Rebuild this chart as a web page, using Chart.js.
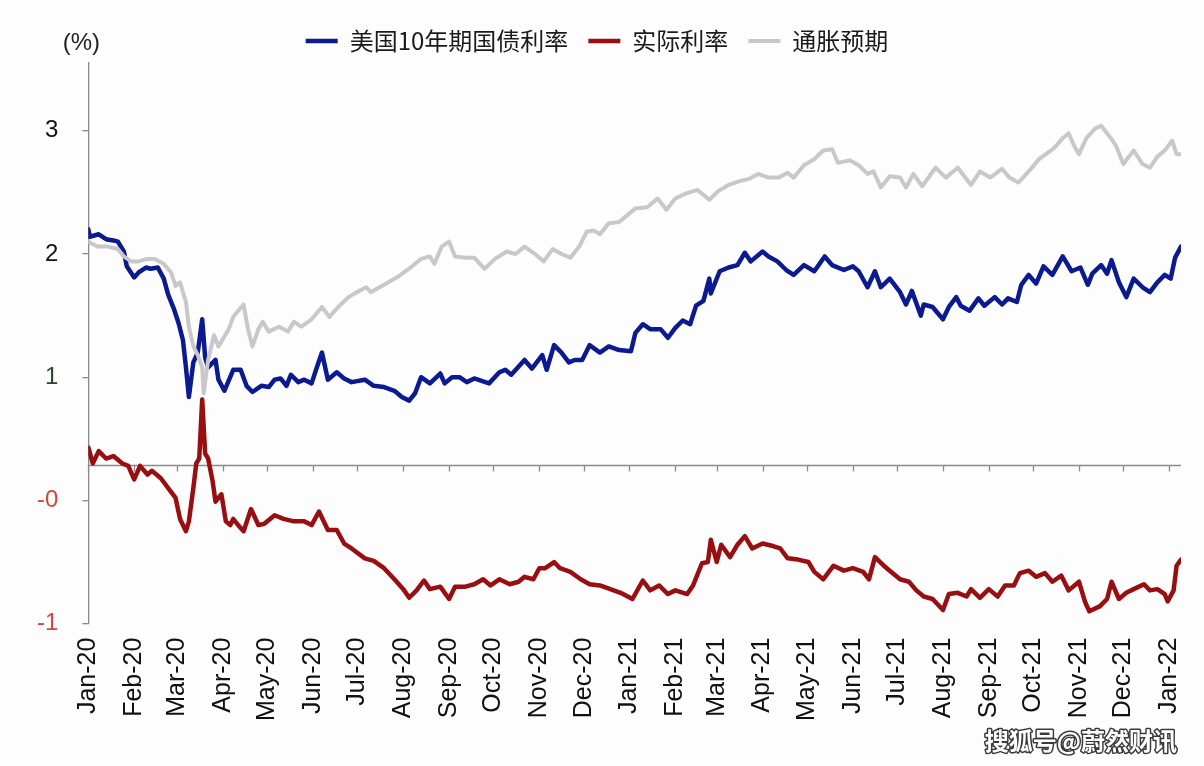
<!DOCTYPE html>
<html>
<head>
<meta charset="utf-8">
<script src="https://cdn.jsdelivr.net/npm/chart.js@4.4.1/dist/chart.umd.min.js"></script>
<style>
  html, body { margin: 0; padding: 0; background: #fdfdfd; }
  #wrap { width: 1204px; height: 766px; position: relative; }
</style>
</head>
<body>
<div id="wrap"><canvas id="c" width="1204" height="766"></canvas></div>
<script>
// ---------------- data ----------------
const seriesNames = ['美国10年期国债利率', '实际利率', '通胀预期'];
const monthLabels = ['Jan-20','Feb-20','Mar-20','Apr-20','May-20','Jun-20','Jul-20','Aug-20','Sep-20','Oct-20','Nov-20','Dec-20',
                     'Jan-21','Feb-21','Mar-21','Apr-21','May-21','Jun-21','Jul-21','Aug-21','Sep-21','Oct-21','Nov-21','Dec-21','Jan-22'];
const yTickValues = [-1, 0, 1, 2, 3];
const yTickLabels = ['-1', '-0', '1', '2', '3'];
const axisCrossValue = 0.29;   // value where the horizontal category axis crosses
const lastDay = 739;           // days after 1 Jan 2020 covered by the axis

// days after 1 Jan 2020 / value  — US 10Y Treasury yield
const tsyDays = [0,1,7,12,17,20,24,26,31,34,39,42,47,51,54,58,61,64,66,68,71,74,77,79,81,86,88,92,98,103,107,111,117,122,126,130,134,137,142,146,151,154,158,162,168,173,178,187,193,200,207,212,217,221,225,231,238,241,246,251,256,261,271,278,282,286,295,300,307,310,315,320,325,329,334,339,346,352,359,367,370,375,380,387,392,397,402,407,411,416,420,421,427,433,439,444,448,456,460,466,472,477,484,491,498,503,511,517,521,527,532,536,542,549,553,557,563,565,571,578,582,587,590,596,602,606,613,618,622,628,631,636,641,646,652,659,665,671,676,679,685,689,692,697,702,707,713,718,723,728,732,735,739];
const tsyValues = [2.20,2.14,2.16,2.12,2.11,2.10,2.02,1.90,1.81,1.85,1.89,1.88,1.89,1.80,1.67,1.55,1.44,1.30,1.08,0.84,1.12,1.20,1.47,1.16,1.08,1.14,0.98,0.89,1.06,1.06,0.93,0.88,0.93,0.92,0.98,0.99,0.93,1.02,0.96,0.98,0.95,1.06,1.20,0.98,1.04,0.99,0.96,0.98,0.93,0.92,0.89,0.84,0.81,0.87,1.00,0.95,1.03,0.95,1.00,1.00,0.96,0.99,0.95,1.04,1.06,1.02,1.14,1.07,1.18,1.06,1.26,1.20,1.12,1.14,1.14,1.26,1.20,1.25,1.22,1.21,1.36,1.43,1.39,1.39,1.32,1.40,1.46,1.43,1.58,1.62,1.80,1.68,1.86,1.89,1.91,2.01,1.94,2.02,1.98,1.94,1.87,1.83,1.91,1.86,1.98,1.91,1.87,1.90,1.86,1.73,1.86,1.73,1.80,1.69,1.59,1.70,1.50,1.59,1.57,1.47,1.57,1.65,1.58,1.54,1.64,1.58,1.65,1.59,1.64,1.61,1.75,1.83,1.76,1.90,1.83,1.98,1.86,1.89,1.75,1.84,1.91,1.84,1.95,1.77,1.65,1.80,1.73,1.69,1.77,1.83,1.80,1.97,2.06];

// real rate
const realDays = [0,3,7,12,17,23,27,31,35,40,43,49,54,59,62,66,68,71,73,75,77,79,81,84,86,90,93,96,98,102,105,110,115,119,126,132,139,146,151,156,162,168,173,178,187,193,200,207,213,217,222,227,231,238,244,248,255,261,267,272,278,285,291,295,301,305,309,315,319,326,333,339,346,353,360,368,375,380,386,392,397,405,409,415,419,421,425,428,434,439,444,449,456,463,468,473,480,487,491,497,504,511,517,524,528,532,538,542,549,555,560,565,571,578,582,588,594,597,603,609,615,620,626,630,636,641,647,652,658,663,670,674,677,684,689,692,697,702,707,714,718,723,728,730,734,736,739];
const realValues = [0.43,0.30,0.40,0.34,0.36,0.30,0.28,0.17,0.28,0.21,0.24,0.18,0.10,0.02,-0.15,-0.25,-0.17,0.10,0.30,0.34,0.82,0.38,0.34,0.16,-0.01,0.05,-0.17,-0.20,-0.15,-0.21,-0.25,-0.07,-0.20,-0.19,-0.12,-0.15,-0.17,-0.17,-0.20,-0.09,-0.24,-0.24,-0.35,-0.39,-0.47,-0.49,-0.55,-0.64,-0.72,-0.79,-0.73,-0.65,-0.72,-0.70,-0.80,-0.70,-0.70,-0.68,-0.64,-0.69,-0.64,-0.68,-0.66,-0.62,-0.64,-0.55,-0.55,-0.50,-0.55,-0.58,-0.64,-0.68,-0.69,-0.72,-0.75,-0.80,-0.65,-0.73,-0.69,-0.76,-0.73,-0.76,-0.69,-0.51,-0.50,-0.32,-0.50,-0.36,-0.46,-0.36,-0.29,-0.39,-0.35,-0.37,-0.39,-0.47,-0.48,-0.50,-0.58,-0.64,-0.53,-0.57,-0.55,-0.58,-0.64,-0.46,-0.53,-0.57,-0.64,-0.66,-0.73,-0.78,-0.80,-0.89,-0.76,-0.75,-0.78,-0.72,-0.79,-0.72,-0.78,-0.69,-0.69,-0.59,-0.57,-0.62,-0.59,-0.66,-0.61,-0.73,-0.66,-0.82,-0.90,-0.86,-0.80,-0.66,-0.80,-0.75,-0.72,-0.68,-0.73,-0.72,-0.76,-0.82,-0.73,-0.53,-0.48];

// inflation expectations (breakeven)
const beDays = [0,6,13,20,24,29,34,40,45,51,56,59,62,66,68,71,74,77,78,81,85,88,92,95,98,105,108,111,115,118,122,129,135,139,144,151,158,163,169,176,183,188,191,200,210,219,225,231,234,239,244,248,255,261,268,275,283,289,295,302,308,314,320,326,332,337,342,346,352,359,370,378,385,391,397,404,412,420,426,433,440,447,453,460,467,473,477,484,491,497,503,507,515,521,527,531,536,542,549,553,558,564,573,580,588,597,603,610,618,623,629,636,643,650,654,659,663,667,670,675,681,685,691,695,700,707,713,718,723,728,733,736,739];
const beValues = [2.10,2.06,2.06,2.04,1.98,1.94,1.94,1.96,1.96,1.92,1.85,1.74,1.77,1.61,1.41,1.25,1.18,1.08,0.87,1.14,1.34,1.25,1.33,1.39,1.49,1.59,1.39,1.25,1.39,1.45,1.37,1.41,1.37,1.45,1.41,1.47,1.57,1.49,1.57,1.65,1.70,1.73,1.69,1.75,1.82,1.90,1.96,1.98,1.92,2.06,2.10,1.98,1.97,1.97,1.88,1.96,2.02,2.00,2.06,2.00,1.94,2.04,2.00,1.97,2.06,2.18,2.19,2.16,2.25,2.26,2.37,2.38,2.45,2.36,2.45,2.49,2.52,2.44,2.51,2.56,2.59,2.61,2.65,2.62,2.62,2.66,2.62,2.72,2.77,2.84,2.85,2.74,2.76,2.72,2.65,2.67,2.54,2.63,2.62,2.54,2.65,2.55,2.70,2.62,2.70,2.56,2.67,2.62,2.69,2.62,2.58,2.67,2.77,2.83,2.87,2.94,2.98,2.87,2.81,2.94,3.02,3.04,2.95,2.88,2.73,2.84,2.73,2.70,2.79,2.84,2.92,2.81,2.81];

// ---------------- helpers ----------------
const toPoints = (days, vals) => days.map((d, i) => ({ x: d, y: vals[i] }));
const dayMs = 86400000;
const monthTickDays = monthLabels.map((_, i) => Math.round((Date.UTC(2020, i, 1) - Date.UTC(2020, 0, 1)) / dayMs));

const colors = { tsy: '#0b1b8f', real: '#990e10', be: '#c8c8c8' };

const decor = {
  id: 'decor',
  beforeDraw(chart) {
    const { ctx, width, height } = chart;
    ctx.save();
    ctx.fillStyle = '#fdfdfd';
    ctx.fillRect(0, 0, width, height);
    ctx.restore();
  },
  beforeDatasetsDraw(chart) {
    const { ctx, chartArea, scales: { x, y } } = chart;
    const yy = Math.round(y.getPixelForValue(axisCrossValue)) + 0.5;
    ctx.save();
    ctx.strokeStyle = '#8a8a8a';
    ctx.lineWidth = 1.3;
    ctx.beginPath();
    ctx.moveTo(chartArea.left, yy);
    ctx.lineTo(chartArea.right, yy);
    x.ticks.forEach(t => {
      const px = Math.round(x.getPixelForValue(t.value)) + 0.5;
      ctx.moveTo(px, yy);
      ctx.lineTo(px, yy + 6);
    });
    ctx.stroke();
    ctx.restore();
  },
  afterDraw(chart) {
    const { ctx, chartArea } = chart;
    ctx.save();
    ctx.fillStyle = '#222';
    ctx.font = '24px "Liberation Sans", Arial, sans-serif';
    ctx.textAlign = 'center';
    ctx.textBaseline = 'middle';
    ctx.fillText('(%)', chartArea.left - 7, 43);
    // watermark
    ctx.font = 'bold 24px "Noto Sans CJK SC", sans-serif';
    ctx.textAlign = 'right';
    ctx.lineJoin = 'round';
    ctx.strokeStyle = '#3a3a3a';
    ctx.lineWidth = 3;
    ctx.strokeText('搜狐号@蔚然财讯', chart.width - 27, chart.height - 25);
    ctx.fillStyle = '#ffffff';
    ctx.fillText('搜狐号@蔚然财讯', chart.width - 27, chart.height - 25);
    ctx.restore();
  }
};

new Chart(document.getElementById('c'), {
  type: 'line',
  data: {
    datasets: [
      { label: seriesNames[0], data: toPoints(tsyDays, tsyValues), borderColor: colors.tsy, backgroundColor: colors.tsy,
        borderWidth: 4.5, pointRadius: 0, tension: 0, order: 2, borderJoinStyle: 'round', borderCapStyle: 'round' },
      { label: seriesNames[1], data: toPoints(realDays, realValues), borderColor: colors.real, backgroundColor: colors.real,
        borderWidth: 4.5, pointRadius: 0, tension: 0, order: 0, borderJoinStyle: 'round', borderCapStyle: 'round' },
      { label: seriesNames[2], data: toPoints(beDays, beValues), borderColor: colors.be, backgroundColor: colors.be,
        borderWidth: 4, pointRadius: 0, tension: 0, order: 1, borderJoinStyle: 'round', borderCapStyle: 'round' }
    ]
  },
  options: {
    responsive: false,
    animation: false,
    devicePixelRatio: 1,
    layout: { padding: { top: 9, left: 13, right: 23, bottom: 31 } },
    plugins: {
      legend: {
        position: 'top',
        align: 'center',
        labels: {
          usePointStyle: true,
          pointStyle: 'line',
          pointStyleWidth: 32,
          font: { size: 24, family: '"Noto Sans CJK SC", sans-serif' },
          color: '#1a1a1a',
          padding: 20,
          sort: (a, b) => a.datasetIndex - b.datasetIndex
        }
      },
      tooltip: { enabled: false }
    },
    scales: {
      x: {
        type: 'linear',
        min: 0,
        max: lastDay,
        afterBuildTicks: (scale) => { scale.ticks = monthTickDays.map(v => ({ value: v })); },
        afterFit: (scale) => { scale.paddingRight = 10; },
        ticks: {
          autoSkip: false,
          maxRotation: 90,
          minRotation: 90,
          padding: 14,
          color: '#111',
          font: { size: 25, family: '"Liberation Sans", Arial, sans-serif' },
          callback: (value, index) => monthLabels[index]
        },
        grid: { display: false, drawTicks: false },
        border: { display: false }
      },
      y: {
        min: -1,
        max: 3.55,
        afterBuildTicks: (scale) => { scale.ticks = yTickValues.map(v => ({ value: v })); },
        ticks: {
          padding: 24,
          font: { size: 24, family: '"Liberation Sans", Arial, sans-serif' },
          color: (c) => {
            const v = c.tick ? c.tick.value : 0;
            if (v <= 0) return '#d2473b';
            if (v === 1) return '#234a2e';
            return '#111';
          },
          callback: (value) => yTickLabels[yTickValues.indexOf(value)]
        },
        grid: { drawOnChartArea: false, drawTicks: true, tickLength: 6, color: '#8a8a8a', lineWidth: 1.3 },
        border: { display: true, color: '#8a8a8a', width: 1.3 }
      }
    }
  },
  plugins: [decor]
});
</script>
</body>
</html>
